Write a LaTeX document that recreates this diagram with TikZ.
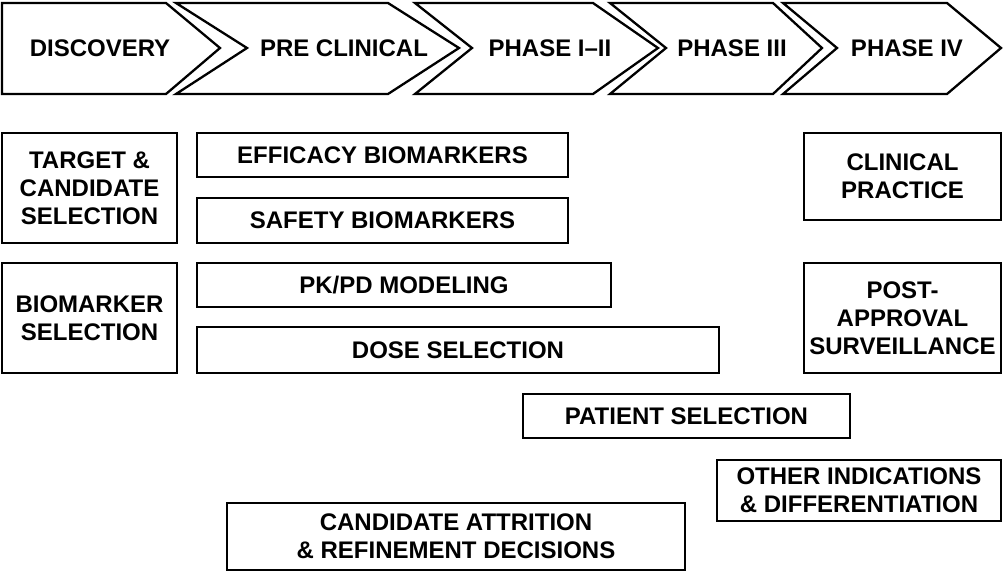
\documentclass[tikz,border=0pt]{standalone}
\usepackage{fontspec}
\setmainfont{Liberation Sans}
\begin{document}
\begin{tikzpicture}[x=1pt, y=-1pt,
        phase/.style={font=\bfseries\fontsize{24}{28}\selectfont, inner sep=0pt},
        stage/.style={draw, line width=2.6pt, inner sep=0pt, align=center,
            font=\bfseries\fontsize{24}{28}\selectfont}
    ]
    \useasboundingbox (0,0) rectangle (1004,571);

    % phase chevrons
    \begin{scope}[line width=2.3pt, line join=miter]
        \draw (2,3) -- (166,3) -- (220,48) -- (166,94) -- (2,94) -- cycle;
        \draw (176,3) -- (388,3) -- (459,48) -- (388,94) -- (176,94) -- (247,48) -- cycle;
        \draw (415,3) -- (593,3) -- (658,48) -- (593,94) -- (415,94) -- (472,48) -- cycle;
        \draw (610,3) -- (773,3) -- (822,48) -- (773,94) -- (610,94) -- (666,48) -- cycle;
        \draw (783,3) -- (947,3) -- (1001,48) -- (947,94) -- (783,94) -- (837,48) -- cycle;
    \end{scope}

    \node[phase] (disc) at (100,48) {DISCOVERY};
    \node[phase] (pre) at (344,48) {PRE CLINICAL};
    \node[phase] (ph12) at (550,48) {PHASE I--II};
    \node[phase] (ph3) at (732,48) {PHASE III};
    \node[phase] (ph4) at (907,48) {PHASE IV};

    % activity boxes
    \node[stage, minimum width=175, minimum height=110] (target) at (89.5,188) {TARGET \&\\CANDIDATE\\SELECTION};
    \node[stage, minimum width=175, minimum height=110] (bsel) at (89.5,318) {BIOMARKER\\SELECTION};

    \node[stage, minimum width=371, minimum height=44] (eff) at (382.5,155) {EFFICACY BIOMARKERS};
    \node[stage, minimum width=371, minimum height=45] (safe) at (382.5,220.5) {SAFETY BIOMARKERS};
    \node[stage, minimum width=414, minimum height=44] (pkpd) at (404,285) {PK/PD MODELING};
    \node[stage, minimum width=522, minimum height=46] (dose) at (458,350) {DOSE SELECTION};
    \node[stage, minimum width=327, minimum height=44] (pat) at (686.5,416) {PATIENT SELECTION};

    \node[stage, minimum width=197, minimum height=87] (clin) at (902.5,176.5) {CLINICAL\\PRACTICE};
    \node[stage, minimum width=197, minimum height=110] (post) at (902.5,318) {POST-\\APPROVAL\\SURVEILLANCE};
    \node[stage, minimum width=284, minimum height=61] (other) at (859,490.5) {OTHER INDICATIONS\\\& DIFFERENTIATION};
    \node[stage, minimum width=458, minimum height=67] (attr) at (456,536.5) {CANDIDATE ATTRITION\\\& REFINEMENT DECISIONS};

\end{tikzpicture}
\end{document}
